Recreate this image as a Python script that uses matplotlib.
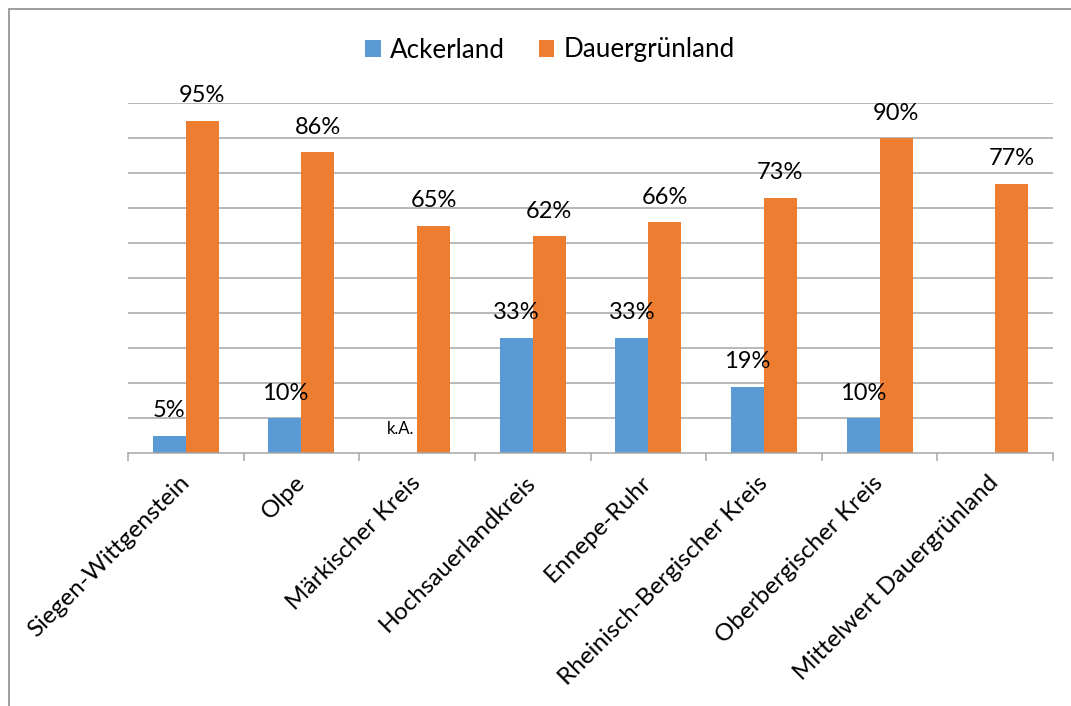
import numpy as np
import matplotlib.pyplot as plt
from matplotlib.patches import Rectangle

plt.rcParams['font.family'] = ['Lato', 'DejaVu Sans']

kreise = ["Siegen-Wittgenstein", "Olpe", "Märkischer Kreis", "Hochsauerlandkreis",
          "Ennepe-Ruhr", "Rheinisch-Bergischer Kreis", "Oberbergischer Kreis",
          "Mittelwert Dauergrünland"]
ackerland = [5, 10, None, 33, 33, 19, 10, None]
dauergruenland = [95, 86, 65, 62, 66, 73, 90, 77]

blau = "#5B9BD5"
orange = "#ED7D31"
grau = "#A6A6A6"

fig = plt.figure(figsize=(10.71, 7.06), dpi=100)
ax = fig.add_axes([128 / 1071, 1 - 453 / 706, (1053 - 128) / 1071, 350 / 706])

x = np.arange(len(kreise))
w = 0.285

acker_werte = [v if v is not None else 0 for v in ackerland]
b1 = ax.bar(x - w / 2, acker_werte, w, color=blau, label="Ackerland", zorder=2)
b2 = ax.bar(x + w / 2, dauergruenland, w, color=orange, label="Dauergrünland", zorder=2)

# Beschriftungen über den Balken
for i, v in enumerate(ackerland):
    if v is not None:
        ax.annotate(f"{v}%", (x[i] - w / 2, v), xytext=(0, 13), textcoords="offset points",
                    ha="center", va="baseline", fontsize=17, zorder=3)
    elif i == 2:
        ax.annotate("k.A.", (x[i] - w / 2, 0), xytext=(0, 17), textcoords="offset points",
                    ha="center", va="center", fontsize=12, zorder=3)
for i, v in enumerate(dauergruenland):
    ax.annotate(f"{v}%", (x[i] + w / 2, v), xytext=(0, 13), textcoords="offset points",
                ha="center", va="baseline", fontsize=17, zorder=3)

ax.set_xlim(-0.5, len(kreise) - 0.5)
ax.set_ylim(0, 100)
ax.set_yticks(np.arange(10, 101, 10))
ax.yaxis.grid(True, color=grau, linewidth=1.1, zorder=0)
ax.tick_params(axis="y", left=False, labelleft=False)

for s in ["top", "right", "left"]:
    ax.spines[s].set_visible(False)
ax.spines["bottom"].set_color(grau)
ax.spines["bottom"].set_linewidth(1.1)

# Trennstriche zwischen den Kategorien
ax.set_xticks(np.arange(-0.5, len(kreise)), minor=False)
ax.set_xticklabels([])
ax.tick_params(axis="x", length=6, width=1.1, color=grau, direction="out")
ax.set_xticks(x, minor=True)
ax.set_xticklabels(kreise, minor=True, rotation=45, ha="right", va="center",
                   rotation_mode="anchor", fontsize=17.5)
ax.tick_params(axis="x", which="minor", length=0, pad=19)

fig.legend(handles=[b1, b2], loc="center", bbox_to_anchor=(550 / 1071, 1 - 50 / 706),
           ncol=2, frameon=False, fontsize=18.7, handlelength=0.6, handleheight=0.6,
           handletextpad=0.35, columnspacing=1.3)

# Rahmen um die Grafik
fig.patches.append(Rectangle((8.5 / 1071, -0.1), 1.2, 1.1 - 8.5 / 706, transform=fig.transFigure,
                             fill=False, edgecolor="#8C8C8C", linewidth=1.2))

fig.savefig("out.png", dpi=100, facecolor="white")
